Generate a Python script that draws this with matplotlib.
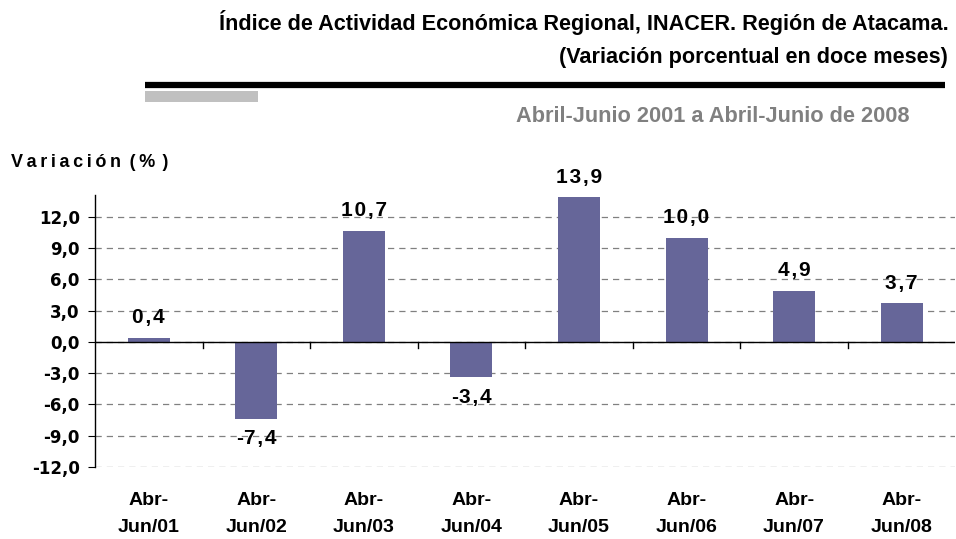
import matplotlib.pyplot as plt
import numpy as np

periodos = ['Abr-\nJun/01', 'Abr-\nJun/02', 'Abr-\nJun/03', 'Abr-\nJun/04',
            'Abr-\nJun/05', 'Abr-\nJun/06', 'Abr-\nJun/07', 'Abr-\nJun/08']
variacion = [0.4, -7.4, 10.7, -3.4, 13.9, 10.0, 4.9, 3.7]
yticks = [-12, -9, -6, -3, 0, 3, 6, 9, 12]

narrow = ['Liberation Sans Narrow', 'Liberation Sans', 'DejaVu Sans']
arial = ['Liberation Sans', 'DejaVu Sans']
thin = '\u2009'
hair = '\u200a'

fig = plt.figure(figsize=(9.56, 5.39), dpi=100)
ax = fig.add_axes([0.0994, 0.134, 0.9, 0.504])

x = np.arange(len(variacion))
ax.bar(x, variacion, width=0.39, color='#666699', zorder=3)

ax.set_xlim(-0.5, len(variacion) - 0.5)
ax.set_ylim(-12, 14.1)
ax.set_yticks(yticks)
ax.set_yticklabels([f'{v:.1f}'.replace('.', ',') for v in yticks],
                   fontsize=12, fontweight='bold')
ax.yaxis.grid(True, linestyle=(0, (5, 4)), color='#808080', linewidth=0.9, zorder=0)
ax.axhline(0, color='black', linewidth=1, zorder=4)
ax.tick_params(axis='y', direction='out', length=5, pad=6)

# marcas entre categorias sobre el eje cero
for b in np.arange(0.5, len(variacion) - 1, 1.0):
    ax.plot([b, b], [0, -0.55], color='black', linewidth=1, zorder=4)

ax.set_xticks(x)
ax.set_xticklabels([])
for xi, lab in zip(x, periodos):
    ax.text(xi, -14.4, lab, ha='center', va='top', fontsize=14, fontweight='bold',
            family=narrow, linespacing=1.8)
ax.tick_params(axis='x', length=0)

for s in ['top', 'right', 'bottom']:
    ax.spines[s].set_visible(False)
ax.spines['left'].set_linewidth(1)

for xi, v in zip(x, variacion):
    txt = f'{v:.1f}'.replace('.', ',')
    txt = hair.join(txt).replace('-' + hair, '-')
    if v >= 0:
        ax.text(xi, v + 1.0, txt, ha='center', va='bottom', fontsize=15,
                fontweight='bold', family=arial)
    else:
        ax.text(xi, v - 1.0, txt, ha='center', va='top', fontsize=15,
                fontweight='bold', family=arial)

# encabezado
fig.text(0.992, 0.958, 'Índice de Actividad Económica Regional, INACER. Región de Atacama.',
         ha='right', va='center', fontsize=15.6, fontweight='bold', family=narrow)
fig.text(0.992, 0.893, '(Variación porcentual en doce meses)',
         ha='right', va='center', fontsize=15.6, fontweight='bold', family=narrow)
fig.add_artist(plt.Line2D([0.1517, 0.9885], [0.842, 0.842], color='black',
                          linewidth=4.5, solid_capstyle='butt'))
fig.add_artist(plt.Rectangle((0.152, 0.811), 0.118, 0.02, color='#c0c0c0', linewidth=0))
fig.text(0.951, 0.783, 'Abril-Junio 2001 a Abril-Junio de 2008',
         ha='right', va='center', fontsize=15.7, fontweight='bold', color='#808080',
         family=narrow)
fig.text(0.012, 0.698, thin.join('Variación') + ' ' + thin + thin.join('(%') + thin * 2 + ')',
         ha='left', va='center', fontsize=13, fontweight='bold', family=arial)

plt.savefig('out.png', dpi=100)
